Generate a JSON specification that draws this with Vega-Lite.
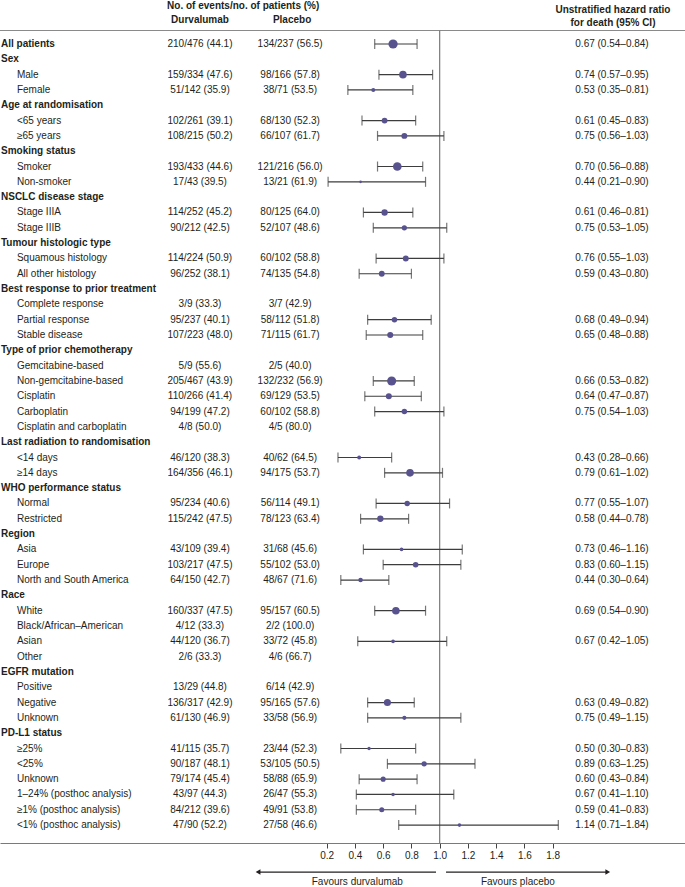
{
  "$schema": "https://vega.github.io/schema/vega-lite/v6.json",
  "autosize": "none",
  "width": 685,
  "height": 843,
  "padding": {"left": 0, "top": 0, "right": 0, "bottom": 44},
  "config": {"font": "Liberation Sans", "view": {"stroke": null}, "text": {"fontSize": 10, "color": "#231f20", "baseline": "middle"}},
  "data": {"values": [
    {"row":1,"kind":"overall","label":"All patients","durv":"210/476 (44.1)","plac":"134/237 (56.5)","hr":"0.67 (0.54–0.84)","est":0.67,"lo":0.54,"hi":0.84,"ev":344},
    {"row":2,"kind":"group","label":"Sex"},
    {"row":3,"kind":"item","label":"Male","durv":"159/334 (47.6)","plac":"98/166 (57.8)","hr":"0.74 (0.57–0.95)","est":0.74,"lo":0.57,"hi":0.95,"ev":257},
    {"row":4,"kind":"item","label":"Female","durv":"51/142 (35.9)","plac":"38/71 (53.5)","hr":"0.53 (0.35–0.81)","est":0.53,"lo":0.35,"hi":0.81,"ev":89},
    {"row":5,"kind":"group","label":"Age at randomisation"},
    {"row":6,"kind":"item","label":"<65 years","durv":"102/261 (39.1)","plac":"68/130 (52.3)","hr":"0.61 (0.45–0.83)","est":0.61,"lo":0.45,"hi":0.83,"ev":170},
    {"row":7,"kind":"item","label":"≥65 years","durv":"108/215 (50.2)","plac":"66/107 (61.7)","hr":"0.75 (0.56–1.03)","est":0.75,"lo":0.56,"hi":1.03,"ev":174},
    {"row":8,"kind":"group","label":"Smoking status"},
    {"row":9,"kind":"item","label":"Smoker","durv":"193/433 (44.6)","plac":"121/216 (56.0)","hr":"0.70 (0.56–0.88)","est":0.70,"lo":0.56,"hi":0.88,"ev":314},
    {"row":10,"kind":"item","label":"Non-smoker","durv":"17/43 (39.5)","plac":"13/21 (61.9)","hr":"0.44 (0.21–0.90)","est":0.44,"lo":0.21,"hi":0.90,"ev":30},
    {"row":11,"kind":"group","label":"NSCLC disease stage"},
    {"row":12,"kind":"item","label":"Stage IIIA","durv":"114/252 (45.2)","plac":"80/125 (64.0)","hr":"0.61 (0.46–0.81)","est":0.61,"lo":0.46,"hi":0.81,"ev":194},
    {"row":13,"kind":"item","label":"Stage IIIB","durv":"90/212 (42.5)","plac":"52/107 (48.6)","hr":"0.75 (0.53–1.05)","est":0.75,"lo":0.53,"hi":1.05,"ev":142},
    {"row":14,"kind":"group","label":"Tumour histologic type"},
    {"row":15,"kind":"item","label":"Squamous histology","durv":"114/224 (50.9)","plac":"60/102 (58.8)","hr":"0.76 (0.55–1.03)","est":0.76,"lo":0.55,"hi":1.03,"ev":174},
    {"row":16,"kind":"item","label":"All other histology","durv":"96/252 (38.1)","plac":"74/135 (54.8)","hr":"0.59 (0.43–0.80)","est":0.59,"lo":0.43,"hi":0.80,"ev":170},
    {"row":17,"kind":"group","label":"Best response to prior treatment"},
    {"row":18,"kind":"item","label":"Complete response","durv":"3/9 (33.3)","plac":"3/7 (42.9)"},
    {"row":19,"kind":"item","label":"Partial response","durv":"95/237 (40.1)","plac":"58/112 (51.8)","hr":"0.68 (0.49–0.94)","est":0.68,"lo":0.49,"hi":0.94,"ev":153},
    {"row":20,"kind":"item","label":"Stable disease","durv":"107/223 (48.0)","plac":"71/115 (61.7)","hr":"0.65 (0.48–0.88)","est":0.65,"lo":0.48,"hi":0.88,"ev":178},
    {"row":21,"kind":"group","label":"Type of prior chemotherapy"},
    {"row":22,"kind":"item","label":"Gemcitabine-based","durv":"5/9 (55.6)","plac":"2/5 (40.0)"},
    {"row":23,"kind":"item","label":"Non-gemcitabine-based","durv":"205/467 (43.9)","plac":"132/232 (56.9)","hr":"0.66 (0.53–0.82)","est":0.66,"lo":0.53,"hi":0.82,"ev":337},
    {"row":24,"kind":"item","label":"Cisplatin","durv":"110/266 (41.4)","plac":"69/129 (53.5)","hr":"0.64 (0.47–0.87)","est":0.64,"lo":0.47,"hi":0.87,"ev":179},
    {"row":25,"kind":"item","label":"Carboplatin","durv":"94/199 (47.2)","plac":"60/102 (58.8)","hr":"0.75 (0.54–1.03)","est":0.75,"lo":0.54,"hi":1.03,"ev":154},
    {"row":26,"kind":"item","label":"Cisplatin and carboplatin","durv":"4/8 (50.0)","plac":"4/5 (80.0)"},
    {"row":27,"kind":"group","label":"Last radiation to randomisation"},
    {"row":28,"kind":"item","label":"<14 days","durv":"46/120 (38.3)","plac":"40/62 (64.5)","hr":"0.43 (0.28–0.66)","est":0.43,"lo":0.28,"hi":0.66,"ev":86},
    {"row":29,"kind":"item","label":"≥14 days","durv":"164/356 (46.1)","plac":"94/175 (53.7)","hr":"0.79 (0.61–1.02)","est":0.79,"lo":0.61,"hi":1.02,"ev":258},
    {"row":30,"kind":"group","label":"WHO performance status"},
    {"row":31,"kind":"item","label":"Normal","durv":"95/234 (40.6)","plac":"56/114 (49.1)","hr":"0.77 (0.55–1.07)","est":0.77,"lo":0.55,"hi":1.07,"ev":151},
    {"row":32,"kind":"item","label":"Restricted","durv":"115/242 (47.5)","plac":"78/123 (63.4)","hr":"0.58 (0.44–0.78)","est":0.58,"lo":0.44,"hi":0.78,"ev":193},
    {"row":33,"kind":"group","label":"Region"},
    {"row":34,"kind":"item","label":"Asia","durv":"43/109 (39.4)","plac":"31/68 (45.6)","hr":"0.73 (0.46–1.16)","est":0.73,"lo":0.46,"hi":1.16,"ev":74},
    {"row":35,"kind":"item","label":"Europe","durv":"103/217 (47.5)","plac":"55/102 (53.0)","hr":"0.83 (0.60–1.15)","est":0.83,"lo":0.60,"hi":1.15,"ev":158},
    {"row":36,"kind":"item","label":"North and South America","durv":"64/150 (42.7)","plac":"48/67 (71.6)","hr":"0.44 (0.30–0.64)","est":0.44,"lo":0.30,"hi":0.64,"ev":112},
    {"row":37,"kind":"group","label":"Race"},
    {"row":38,"kind":"item","label":"White","durv":"160/337 (47.5)","plac":"95/157 (60.5)","hr":"0.69 (0.54–0.90)","est":0.69,"lo":0.54,"hi":0.90,"ev":255},
    {"row":39,"kind":"item","label":"Black/African–American","durv":"4/12 (33.3)","plac":"2/2 (100.0)"},
    {"row":40,"kind":"item","label":"Asian","durv":"44/120 (36.7)","plac":"33/72 (45.8)","hr":"0.67 (0.42–1.05)","est":0.67,"lo":0.42,"hi":1.05,"ev":77},
    {"row":41,"kind":"item","label":"Other","durv":"2/6 (33.3)","plac":"4/6 (66.7)"},
    {"row":42,"kind":"group","label":"EGFR mutation"},
    {"row":43,"kind":"item","label":"Positive","durv":"13/29 (44.8)","plac":"6/14 (42.9)"},
    {"row":44,"kind":"item","label":"Negative","durv":"136/317 (42.9)","plac":"95/165 (57.6)","hr":"0.63 (0.49–0.82)","est":0.63,"lo":0.49,"hi":0.82,"ev":231},
    {"row":45,"kind":"item","label":"Unknown","durv":"61/130 (46.9)","plac":"33/58 (56.9)","hr":"0.75 (0.49–1.15)","est":0.75,"lo":0.49,"hi":1.15,"ev":94},
    {"row":46,"kind":"group","label":"PD-L1 status"},
    {"row":47,"kind":"item","label":"≥25%","durv":"41/115 (35.7)","plac":"23/44 (52.3)","hr":"0.50 (0.30–0.83)","est":0.50,"lo":0.30,"hi":0.83,"ev":64},
    {"row":48,"kind":"item","label":"<25%","durv":"90/187 (48.1)","plac":"53/105 (50.5)","hr":"0.89 (0.63–1.25)","est":0.89,"lo":0.63,"hi":1.25,"ev":143},
    {"row":49,"kind":"item","label":"Unknown","durv":"79/174 (45.4)","plac":"58/88 (65.9)","hr":"0.60 (0.43–0.84)","est":0.60,"lo":0.43,"hi":0.84,"ev":137},
    {"row":50,"kind":"item","label":"1–24% (posthoc analysis)","durv":"43/97 (44.3)","plac":"26/47 (55.3)","hr":"0.67 (0.41–1.10)","est":0.67,"lo":0.41,"hi":1.10,"ev":69},
    {"row":51,"kind":"item","label":"≥1% (posthoc analysis)","durv":"84/212 (39.6)","plac":"49/91 (53.8)","hr":"0.59 (0.41–0.83)","est":0.59,"lo":0.41,"hi":0.83,"ev":133},
    {"row":52,"kind":"item","label":"<1% (posthoc analysis)","durv":"47/90 (52.2)","plac":"27/58 (46.6)","hr":"1.14 (0.71–1.84)","est":1.14,"lo":0.71,"hi":1.84,"ev":74}
  ]},
  "encoding": {
    "y": {"field": "row", "type": "quantitative", "scale": {"domain": [-1.873, 53.17], "reverse": true, "nice": false, "zero": false}, "axis": null}
  },
  "layer": [
    {
      "transform": [{"filter": "datum.row == 1"}],
      "mark": {"type": "rule", "color": "#8a8a8a", "strokeWidth": 1.2},
      "encoding": {
        "x": {"datum": -2.113, "type": "quantitative", "scale": {"domain": [-2.113, 2.737], "nice": false, "zero": false},
          "axis": {"values": [0.2, 0.4, 0.6, 0.8, 1.0, 1.2, 1.4, 1.6, 1.8], "format": ".1f", "title": null, "grid": false, "labelFontSize": 10, "labelColor": "#231f20", "labelFont": "Liberation Sans", "tickSize": 5, "tickColor": "#444444", "domainColor": "#7a7a7a", "domainWidth": 1.2, "labelPadding": 2}},
        "x2": {"datum": 2.737},
        "y": {"datum": 0.119, "type": "quantitative"}
      }
    },
    {
      "transform": [{"filter": "datum.row == 1"}],
      "mark": {"type": "rule", "color": "#7a7a7a", "strokeWidth": 1.2},
      "encoding": {
        "x": {"datum": 1, "type": "quantitative"},
        "y": {"datum": 0.119, "type": "quantitative"},
        "y2": {"datum": 53.17}
      }
    },
    {
      "transform": [{"filter": "datum.kind != 'item'"}],
      "mark": {"type": "text", "align": "left", "fontWeight": "bold"},
      "encoding": {"x": {"datum": -2.106, "type": "quantitative"}, "text": {"field": "label"}}
    },
    {
      "transform": [{"filter": "datum.kind == 'item'"}],
      "mark": {"type": "text", "align": "left"},
      "encoding": {"x": {"datum": -1.993, "type": "quantitative"}, "text": {"field": "label"}}
    },
    {
      "transform": [{"filter": "isValid(datum.durv)"}],
      "mark": {"type": "text", "align": "center"},
      "encoding": {"x": {"datum": -0.697, "type": "quantitative"}, "text": {"field": "durv"}}
    },
    {
      "transform": [{"filter": "isValid(datum.plac)"}],
      "mark": {"type": "text", "align": "center"},
      "encoding": {"x": {"datum": -0.059, "type": "quantitative"}, "text": {"field": "plac"}}
    },
    {
      "transform": [{"filter": "isValid(datum.hr)"}],
      "mark": {"type": "text", "align": "center"},
      "encoding": {"x": {"datum": 2.22, "type": "quantitative"}, "text": {"field": "hr"}}
    },
    {
      "transform": [{"filter": "isValid(datum.est)"}],
      "mark": {"type": "rule", "color": "#3d3d3d", "strokeWidth": 1.2},
      "encoding": {"x": {"field": "lo", "type": "quantitative"}, "x2": {"field": "hi"}}
    },
    {
      "transform": [{"filter": "isValid(datum.est)"}],
      "mark": {"type": "tick", "orient": "vertical", "color": "#3d3d3d", "thickness": 1.2, "size": 10},
      "encoding": {"x": {"field": "lo", "type": "quantitative"}}
    },
    {
      "transform": [{"filter": "isValid(datum.est)"}],
      "mark": {"type": "tick", "orient": "vertical", "color": "#3d3d3d", "thickness": 1.2, "size": 10},
      "encoding": {"x": {"field": "hi", "type": "quantitative"}}
    },
    {
      "transform": [{"filter": "isValid(datum.est)"}],
      "mark": {"type": "circle", "color": "#58538e", "opacity": 1},
      "encoding": {
        "x": {"field": "est", "type": "quantitative"},
        "size": {"field": "ev", "type": "quantitative", "scale": {"type": "pow", "exponent": 1.4, "domain": [0, 344], "range": [4, 85]}, "legend": null}
      }
    },
    {
      "transform": [{"filter": "datum.row == 1"}],
      "mark": {"type": "text", "align": "center", "fontWeight": "bold"},
      "encoding": {"x": {"datum": -0.391, "type": "quantitative"}, "y": {"datum": -1.48, "type": "quantitative"}, "text": {"value": "No. of events/no. of patients (%)"}}
    },
    {
      "transform": [{"filter": "datum.row == 1"}],
      "mark": {"type": "text", "align": "center", "fontWeight": "bold"},
      "encoding": {"x": {"datum": -0.697, "type": "quantitative"}, "y": {"datum": -0.567, "type": "quantitative"}, "text": {"value": "Durvalumab"}}
    },
    {
      "transform": [{"filter": "datum.row == 1"}],
      "mark": {"type": "text", "align": "center", "fontWeight": "bold"},
      "encoding": {"x": {"datum": -0.045, "type": "quantitative"}, "y": {"datum": -0.567, "type": "quantitative"}, "text": {"value": "Placebo"}}
    },
    {
      "transform": [{"filter": "datum.row == 1"}],
      "mark": {"type": "text", "align": "center", "fontWeight": "bold"},
      "encoding": {"x": {"datum": 2.227, "type": "quantitative"}, "y": {"datum": -1.22, "type": "quantitative"}, "text": {"value": "Unstratified hazard ratio"}}
    },
    {
      "transform": [{"filter": "datum.row == 1"}],
      "mark": {"type": "text", "align": "center", "fontWeight": "bold"},
      "encoding": {"x": {"datum": 2.227, "type": "quantitative"}, "y": {"datum": -0.37, "type": "quantitative"}, "text": {"value": "for death (95% CI)"}}
    },
    {
      "transform": [{"filter": "datum.row == 1"}],
      "mark": {"type": "rule", "color": "#231f20", "strokeWidth": 1.2},
      "encoding": {"x": {"datum": -0.286, "type": "quantitative"}, "x2": {"datum": 0.974}, "y": {"datum": 55.07, "type": "quantitative"}}
    },
    {
      "transform": [{"filter": "datum.row == 1"}],
      "mark": {"type": "rule", "color": "#231f20", "strokeWidth": 1.2},
      "encoding": {"x": {"datum": 1.045, "type": "quantitative"}, "x2": {"datum": 2.19}, "y": {"datum": 55.07, "type": "quantitative"}}
    },
    {
      "transform": [{"filter": "datum.row == 1"}],
      "mark": {"type": "point", "shape": "triangle-left", "filled": true, "color": "#231f20", "size": 30, "opacity": 1},
      "encoding": {"x": {"datum": -0.286, "type": "quantitative"}, "y": {"datum": 55.07, "type": "quantitative"}}
    },
    {
      "transform": [{"filter": "datum.row == 1"}],
      "mark": {"type": "point", "shape": "triangle-right", "filled": true, "color": "#231f20", "size": 30, "opacity": 1},
      "encoding": {"x": {"datum": 2.19, "type": "quantitative"}, "y": {"datum": 55.07, "type": "quantitative"}}
    },
    {
      "transform": [{"filter": "datum.row == 1"}],
      "mark": {"type": "text", "align": "center"},
      "encoding": {"x": {"datum": 0.417, "type": "quantitative"}, "y": {"datum": 55.72, "type": "quantitative"}, "text": {"value": "Favours durvalumab"}}
    },
    {
      "transform": [{"filter": "datum.row == 1"}],
      "mark": {"type": "text", "align": "center"},
      "encoding": {"x": {"datum": 1.554, "type": "quantitative"}, "y": {"datum": 55.72, "type": "quantitative"}, "text": {"value": "Favours placebo"}}
    }
  ]
}
